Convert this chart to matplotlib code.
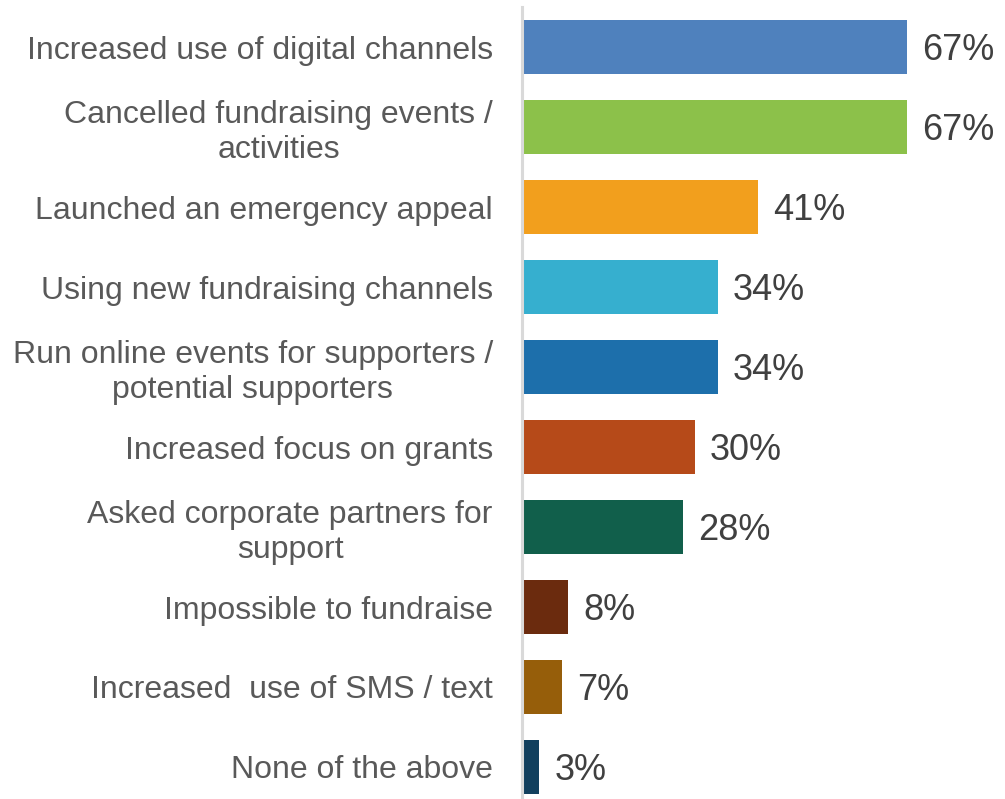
import matplotlib
matplotlib.use("Agg")
import matplotlib.pyplot as plt

categories = [
    "Increased use of digital channels",
    "Cancelled fundraising events /\nactivities",
    "Launched an emergency appeal",
    "Using new fundraising channels",
    "Run online events for supporters /\npotential supporters",
    "Increased focus on grants",
    "Asked corporate partners for\nsupport",
    "Impossible to fundraise",
    "Increased  use of SMS / text",
    "None of the above",
]
values = [67, 67, 41, 34, 34, 30, 28, 8, 7, 3]
colors = [
    "#4F81BD", "#8CC14A", "#F29F1D", "#36AFCF", "#1D6FAB",
    "#B64A19", "#115F4B", "#6B2B0E", "#965E0A", "#12405E",
]

plt.rcParams["font.family"] = ["Liberation Sans", "DejaVu Sans"]

fig = plt.figure(figsize=(10.05, 7.99), dpi=100)
ax = fig.add_axes([522 / 1005, -8 / 799, 575 / 1005, 800 / 799])

y = list(range(len(categories)))
ax.barh(y, values, height=0.67, color=colors, zorder=2)

ax.set_xlim(0, 100)
ax.set_ylim(len(categories) - 0.5, -0.5)

# value labels: baseline placed so the digits sit centred on the bar
for yi, v in zip(y, values):
    ax.annotate(f"{v}%", xy=(v, yi), xytext=(11, -9.3),
                textcoords="offset points", va="baseline", ha="left",
                fontsize=26, color="#404040")

ax.set_yticks(y)
ax.set_yticklabels(categories, fontsize=23, color="#595959",
                   multialignment="center", linespacing=1.2)
ax.tick_params(axis="y", length=0, pad=21)
ax.set_xticks([])

for side in ("top", "right", "bottom"):
    ax.spines[side].set_visible(False)
ax.spines["left"].set_color("#D9D9D9")
ax.spines["left"].set_linewidth(2.2)
ax.spines["left"].set_zorder(3)
ax.patch.set_alpha(0)

fig.savefig("out.png", dpi=100, facecolor="white")
